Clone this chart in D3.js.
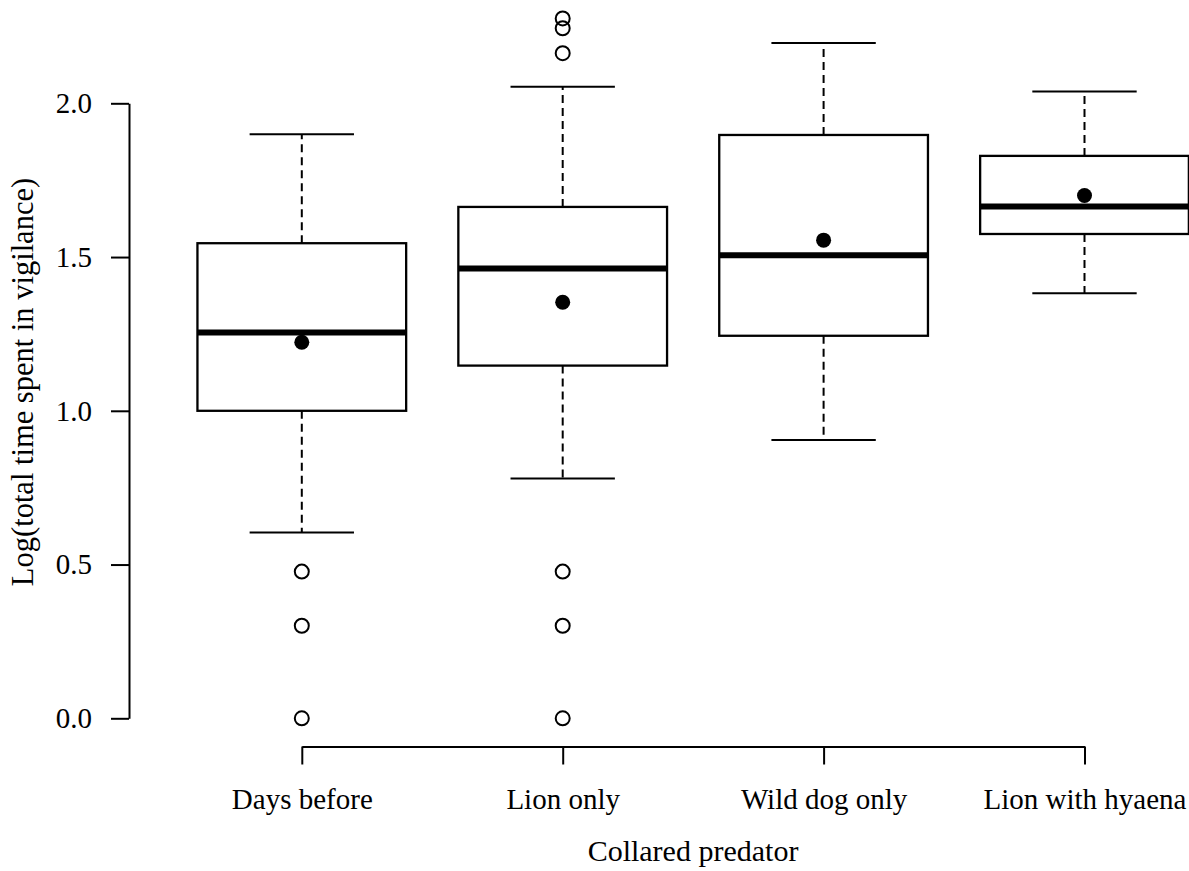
<!DOCTYPE html>
<html><head><meta charset="utf-8">
<script src="https://cdn.jsdelivr.net/npm/d3@7"></script>
<style>
html,body{margin:0;padding:0;background:#fff;}
svg{display:block;font-family:"Liberation Serif","Times New Roman",serif;}
</style></head>
<body><svg id="c" width="1189" height="871"></svg>
<script>
const categories = ["Days before", "Lion only", "Wild dog only", "Lion with hyaena"];
const whiskerLow  = [0.604, 0.780, 0.905, 1.382];
const q1          = [1.000, 1.147, 1.244, 1.575];
const medians     = [1.255, 1.463, 1.506, 1.664];
const q3          = [1.545, 1.663, 1.897, 1.829];
const whiskerHigh = [1.899, 2.054, 2.196, 2.038];
const means       = [1.223, 1.353, 1.555, 1.700];
const outliers    = [[0.477, 0.301, 0.0], [2.276, 2.244, 2.163, 0.477, 0.301, 0.0], [], []];
const yTicks = [0, 0.5, 1.0, 1.5, 2.0];
const xTitle = "Collared predator";
const yTitle = "Log(total time spent in vigilance)";

const svg = d3.select("#c");
const x = d3.scalePoint().domain(categories).range([301.8, 1084.5]);
const y = d3.scaleLinear().domain([0, 2]).range([718.3, 103.3]);
const step = x.step();
const boxW = step * 0.8;
const capW = boxW / 2;

const data = categories.map((c, i) => ({
  c, lo: whiskerLow[i], q1: q1[i], med: medians[i], q3: q3[i], hi: whiskerHigh[i], mean: means[i], out: outliers[i]
}));

const g = svg.append("g");
const bx = g.selectAll("g.box").data(data).join("g").attr("class", "box");

// whiskers (dashed)
bx.append("line").attr("x1", d => x(d.c)).attr("x2", d => x(d.c))
  .attr("y1", d => y(d.q3)).attr("y2", d => y(d.hi))
  .attr("stroke", "#000").attr("stroke-width", 2).attr("stroke-dasharray", "8,5");
bx.append("line").attr("x1", d => x(d.c)).attr("x2", d => x(d.c))
  .attr("y1", d => y(d.q1)).attr("y2", d => y(d.lo))
  .attr("stroke", "#000").attr("stroke-width", 2).attr("stroke-dasharray", "8,5");
// caps
bx.append("line").attr("x1", d => x(d.c) - capW / 2).attr("x2", d => x(d.c) + capW / 2)
  .attr("y1", d => y(d.hi)).attr("y2", d => y(d.hi))
  .attr("stroke", "#000").attr("stroke-width", 2);
bx.append("line").attr("x1", d => x(d.c) - capW / 2).attr("x2", d => x(d.c) + capW / 2)
  .attr("y1", d => y(d.lo)).attr("y2", d => y(d.lo))
  .attr("stroke", "#000").attr("stroke-width", 2);
// box
bx.append("rect").attr("x", d => x(d.c) - boxW / 2).attr("width", boxW)
  .attr("y", d => y(d.q3)).attr("height", d => y(d.q1) - y(d.q3))
  .attr("fill", "#fff").attr("stroke", "#000").attr("stroke-width", 2.3);
// median
bx.append("line").attr("x1", d => x(d.c) - boxW / 2).attr("x2", d => x(d.c) + boxW / 2)
  .attr("y1", d => y(d.med)).attr("y2", d => y(d.med))
  .attr("stroke", "#000").attr("stroke-width", 6);
// outliers
bx.selectAll("circle.out").data(d => d.out.map(v => ({c: d.c, v}))).join("circle")
  .attr("class", "out").attr("cx", d => x(d.c)).attr("cy", d => y(d.v)).attr("r", 7)
  .attr("fill", "none").attr("stroke", "#000").attr("stroke-width", 2);
// means
bx.append("circle").attr("cx", d => x(d.c)).attr("cy", d => y(d.mean)).attr("r", 7.5).attr("fill", "#000");

// axes
const yAxis = d3.axisLeft(y).tickValues(yTicks).tickFormat(d3.format(".1f")).tickSize(18).tickSizeOuter(0).tickPadding(19);
const ya = svg.append("g").attr("transform", "translate(129,0)").call(yAxis);
const xAxis = d3.axisBottom(x).tickSize(18).tickSizeOuter(0).tickPadding(24);
const xa = svg.append("g").attr("transform", "translate(0,746.5)").call(xAxis);
[ya, xa].forEach(a => {
  a.select(".domain").attr("stroke", "#000").attr("stroke-width", 2);
  a.selectAll(".tick line").attr("stroke", "#000").attr("stroke-width", 2);
  a.selectAll(".tick text").attr("fill", "#000").style("font-size", "29px")
    .style("font-family", "'Liberation Serif','Times New Roman',serif");
});

// titles
svg.append("text").attr("x", 693).attr("y", 861).attr("text-anchor", "middle")
  .style("font-size", "30px").attr("fill", "#000").text(xTitle);
svg.append("text").attr("transform", "translate(33,382) rotate(-90)").attr("text-anchor", "middle")
  .style("font-size", "30.5px").attr("fill", "#000").text(yTitle);
</script></body></html>
